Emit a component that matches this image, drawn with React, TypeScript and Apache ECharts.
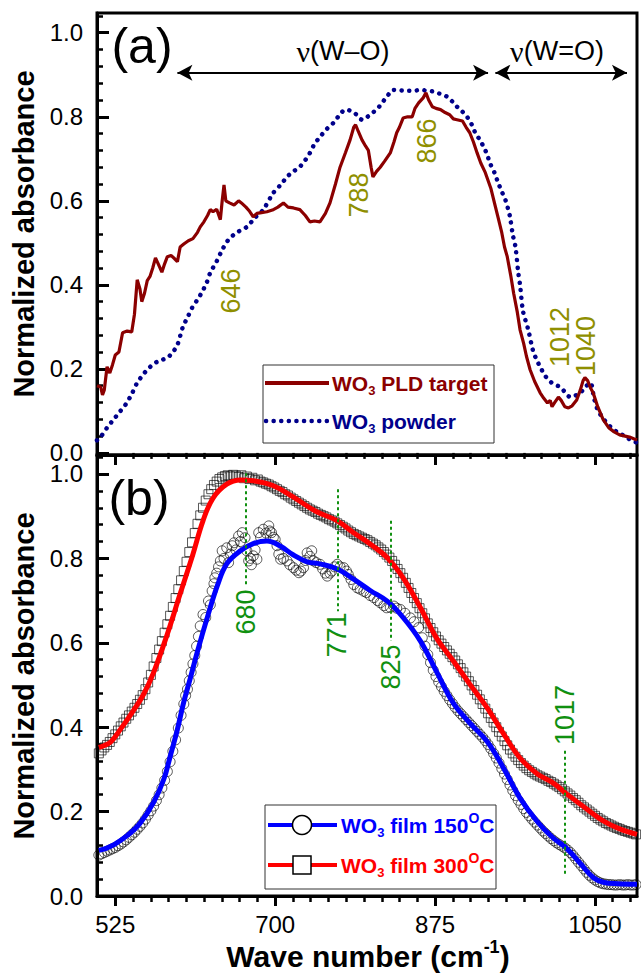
import React, { useEffect, useRef } from "react";
import * as echarts from "echarts";

const FONT = '"Liberation Sans", Arial, sans-serif';
const SERIF = '"Liberation Serif", "DejaVu Serif", serif';
const OLIVE = "#8f8f00";
const GREEN = "#109010";

// ---- axis ticks ----
const xMajorTicks = [525, 700, 875, 1050];
const xMinorTicks = [544.4, 563.9, 583.3, 602.8, 622.2, 641.7, 661.1, 680.6, 719.4, 738.9, 758.3, 777.8, 797.2, 816.7, 836.1, 855.6, 894.4, 913.9, 933.3, 952.8, 972.2, 991.7, 1011.1, 1030.6, 1069.4, 1088.9];
const yMajorTicks = [0, 0.2, 0.4, 0.6, 0.8, 1.0];
const yMinorTicks = [0.04, 0.08, 0.12, 0.16, 0.24, 0.28, 0.32, 0.36, 0.44, 0.48, 0.52, 0.56, 0.64, 0.68, 0.72, 0.76, 0.84, 0.88, 0.92, 0.96, 1.04];

// ---- panel (a) ----
const pldTarget = [[505,0.16],[509,0.157],[511,0.138],[513,0.15],[516,0.205],[519,0.19],[522,0.21],[525,0.233],[529,0.24],[533,0.286],[538,0.29],[543,0.288],[546,0.33],[549,0.412],[552,0.39],[554,0.36],[557,0.38],[560,0.41],[563,0.42],[566,0.44],[569,0.464],[572,0.45],[576,0.43],[579,0.45],[582,0.467],[586,0.47],[590,0.462],[593,0.455],[596,0.49],[600,0.497],[605,0.505],[610,0.51],[615,0.525],[618,0.538],[622,0.55],[626,0.565],[629,0.579],[632,0.574],[636,0.58],[640,0.555],[642,0.6],[644,0.638],[646,0.6],[650,0.595],[655,0.59],[660,0.6],[663,0.595],[668,0.585],[672,0.575],[676,0.562],[680,0.57],[685,0.572],[691,0.574],[697,0.578],[703,0.585],[709,0.595],[714,0.585],[720,0.583],[727,0.579],[733,0.565],[738,0.55],[743,0.552],[749,0.55],[755,0.57],[760,0.595],[766,0.64],[771,0.68],[777,0.715],[782,0.745],[786,0.775],[788,0.781],[791,0.765],[795,0.745],[799,0.73],[802,0.72],[805,0.68],[807,0.657],[811,0.67],[815,0.68],[820,0.695],[826,0.714],[830,0.74],[833,0.762],[836,0.775],[840,0.797],[845,0.8],[850,0.8],[853,0.82],[857,0.833],[862,0.845],[865,0.857],[868,0.84],[872,0.824],[876,0.82],[881,0.817],[886,0.81],[891,0.805],[895,0.795],[899,0.793],[905,0.79],[909,0.775],[913,0.762],[917,0.74],[921,0.714],[925,0.69],[930,0.667],[936,0.63],[941,0.586],[944,0.56],[948,0.524],[951,0.49],[954,0.467],[958,0.42],[961,0.38],[965,0.335],[968,0.293],[972,0.26],[975,0.23],[979,0.198],[984,0.17],[990,0.143],[994,0.13],[998,0.119],[1001,0.125],[1003,0.11],[1006,0.12],[1010,0.133],[1013,0.125],[1017,0.11],[1021,0.107],[1025,0.112],[1030,0.126],[1034,0.15],[1037,0.172],[1039,0.179],[1042,0.172],[1045,0.155],[1048,0.143],[1053,0.11],[1059,0.079],[1065,0.06],[1071,0.05],[1077,0.043],[1083,0.04],[1089,0.037],[1093,0.033],[1096,0.031]];

const powder = [[505,0.03],[509,0.038],[516,0.06],[523,0.079],[530,0.098],[536,0.114],[543,0.14],[549,0.167],[555,0.185],[560,0.198],[566,0.21],[571,0.217],[577,0.222],[582,0.226],[588,0.24],[593,0.257],[599,0.3],[604,0.322],[609,0.345],[615,0.365],[620,0.383],[625,0.405],[629,0.429],[636,0.456],[642,0.483],[648,0.505],[654,0.518],[660,0.527],[669,0.538],[678,0.56],[687,0.579],[698,0.619],[706,0.638],[713,0.657],[720,0.67],[727,0.681],[733,0.697],[738,0.714],[743,0.735],[749,0.752],[757,0.772],[764,0.786],[770,0.803],[777,0.817],[785,0.812],[790,0.803],[795,0.793],[801,0.8],[807,0.81],[813,0.822],[818,0.836],[823,0.85],[829,0.864],[836,0.863],[844,0.862],[852,0.862],[859,0.864],[866,0.862],[873,0.86],[880,0.855],[888,0.848],[894,0.836],[899,0.824],[905,0.812],[910,0.8],[915,0.782],[919,0.762],[924,0.745],[928,0.729],[932,0.71],[935,0.69],[940,0.667],[944,0.643],[948,0.622],[952,0.602],[955,0.58],[957,0.562],[960,0.52],[963,0.49],[966,0.43],[968,0.4],[971,0.34],[974,0.315],[977,0.293],[982,0.245],[986,0.222],[990,0.205],[995,0.185],[1001,0.17],[1006,0.162],[1012,0.157],[1017,0.145],[1023,0.133],[1029,0.137],[1034,0.143],[1040,0.158],[1045,0.167],[1049,0.13],[1053,0.102],[1058,0.085],[1063,0.071],[1068,0.06],[1074,0.05],[1080,0.043],[1085,0.036],[1090,0.03],[1096,0.024]];

// ---- panel (b) ----
const film150Raw = [[507,0.097],[510,0.1],[513,0.103],[516,0.106],[519,0.109],[522,0.112],[525,0.115],[528,0.119],[531,0.123],[534,0.128],[537,0.133],[540,0.139],[543,0.145],[546,0.151],[549,0.158],[552,0.165],[555,0.173],[558,0.182],[561,0.192],[564,0.202],[567,0.213],[570,0.226],[573,0.24],[576,0.256],[579,0.274],[582,0.295],[585,0.318],[588,0.343],[591,0.37],[594,0.398],[597,0.428],[600,0.455],[602,0.475],[604,0.49],[606,0.51],[608,0.53],[610,0.55],[612,0.57],[614,0.592],[616,0.615],[618,0.64],
[621,0.667],[624,0.66],[627,0.699],[629,0.69],[631,0.723],[633,0.74],[634,0.754],[636,0.765],[638,0.78],[640,0.794],[642,0.818],[644,0.8],[647,0.825],[649,0.79],[651,0.81],[653,0.83],[655,0.837],[657,0.82],[660,0.853],[662,0.84],[664,0.861],[667,0.849],[669,0.818],[671,0.794],[673,0.8],[674,0.785],[676,0.806],[678,0.82],[680,0.798],[682,0.861],[684,0.85],[687,0.869],[690,0.86],[693,0.877],[694,0.865],[696,0.861],[698,0.85],[700,0.845],[702,0.83],[704,0.81],[706,0.798],[709,0.8],[713,0.794],[716,0.785],[720,0.778],[723,0.772],[726,0.766],[728,0.77],[731,0.778],[733,0.795],[735,0.813],[738,0.805],[740,0.818],[742,0.794],[745,0.79],[749,0.786],[752,0.775],[755,0.765],[757,0.758],[760,0.765],[762,0.77],[765,0.78],[768,0.786],[771,0.78],[775,0.778],[778,0.77],[780,0.762],[783,0.75],[786,0.738],[790,0.73],[793,0.727],[797,0.722],[800,0.719],[804,0.712],[808,0.707],[812,0.7],[815,0.695],[819,0.688],[822,0.683],[826,0.684],[830,0.687],[833,0.682],[837,0.679],[842,0.67],[848,0.659],[852,0.65],[857,0.636],
[861,0.612],[864,0.592],[867,0.572],[870,0.553],[873,0.535],[876,0.52],[879,0.507],[882,0.496],[885,0.485],[888,0.475],[891,0.465],[894,0.456],[897,0.447],[900,0.439],[903,0.432],[906,0.425],[909,0.418],[912,0.411],[915,0.404],[918,0.397],[921,0.39],[924,0.383],[927,0.376],[930,0.368],[933,0.359],[936,0.349],[939,0.338],[942,0.327],[945,0.315],[948,0.302],[951,0.289],[954,0.276],[957,0.263],[960,0.25],[963,0.238],[966,0.227],[969,0.217],[972,0.207],[975,0.198],[978,0.19],[981,0.182],[984,0.175],[987,0.168],[990,0.161],[993,0.154],[996,0.148],[999,0.142],[1002,0.136],[1005,0.131],[1008,0.126],[1011,0.122],[1014,0.118],[1017,0.114],[1020,0.109],[1023,0.103],[1026,0.096],[1029,0.088],[1032,0.08],[1035,0.072],[1038,0.064],[1041,0.056],[1044,0.049],[1047,0.043],[1050,0.038],[1053,0.034],[1056,0.031],[1059,0.029],[1062,0.028],[1065,0.027],[1068,0.027],[1071,0.026],[1074,0.026],[1077,0.027],[1080,0.026],[1083,0.026],[1086,0.027],[1089,0.026],[1092,0.026],[1095,0.027]];

const film300Raw = [[507,0.338],[510,0.345],[513,0.352],[516,0.358],[519,0.365],[522,0.374],[525,0.383],[528,0.392],[531,0.402],[534,0.411],[537,0.42],[540,0.428],[543,0.437],[546,0.446],[549,0.455],[552,0.465],[555,0.476],[558,0.49],[561,0.506],[564,0.524],[567,0.544],[570,0.564],[573,0.584],[576,0.604],[579,0.624],[582,0.644],[585,0.664],[588,0.685],[591,0.706],[594,0.727],[597,0.748],[600,0.77],[603,0.792],[606,0.815],[609,0.838],[612,0.86],[615,0.882],[618,0.902],[621,0.92],[624,0.937],[627,0.952],[630,0.964],[633,0.974],[636,0.982],[639,0.988],[642,0.992],[645,0.995],[648,0.997],[651,0.994],[654,0.998],[657,0.996],[660,0.993],[663,0.997],[666,0.99],[669,0.994],[672,0.988],[675,0.991],[678,0.985],[681,0.987],[684,0.982],[687,0.98],[690,0.977],[693,0.975],[696,0.971],[699,0.968],[702,0.964],[705,0.96],[708,0.957],[711,0.952],[714,0.949],[717,0.944],[720,0.94],[723,0.936],[726,0.932],[729,0.928],[732,0.924],[735,0.92],[738,0.916],[741,0.913],[744,0.91],[747,0.906],[750,0.903],[753,0.9],[756,0.897],[759,0.893],[762,0.89],[765,0.887],[768,0.883],[771,0.879],[774,0.875],[777,0.871],[780,0.866],[783,0.862],[786,0.858],[789,0.855],[792,0.852],[795,0.849],[798,0.846],[801,0.843],[804,0.839],[807,0.835],[810,0.831],[813,0.826],[816,0.821],[819,0.815],[822,0.809],[825,0.802],[828,0.794],[831,0.785],[834,0.775],[837,0.765],[840,0.754],[843,0.742],[846,0.73],[849,0.718],[852,0.706],[855,0.694],[858,0.682],[861,0.67],[864,0.658],[867,0.646],[870,0.635],[873,0.625],[876,0.615],[879,0.606],[882,0.598],[885,0.59],[888,0.582],[891,0.574],[894,0.566],[897,0.558],[900,0.549],[903,0.54],[906,0.53],[909,0.52],[912,0.509],[915,0.499],[918,0.488],[921,0.477],[924,0.466],[927,0.455],[930,0.444],[933,0.433],[936,0.422],[939,0.411],[942,0.4],[945,0.389],[948,0.378],[951,0.367],[954,0.357],[957,0.347],[960,0.338],[963,0.33],[966,0.322],[969,0.315],[972,0.309],[975,0.303],[978,0.298],[981,0.294],[984,0.29],[987,0.286],[990,0.283],[993,0.28],[996,0.277],[999,0.273],[1002,0.27],[1005,0.266],[1008,0.262],[1011,0.258],[1014,0.253],[1017,0.248],[1020,0.243],[1023,0.238],[1026,0.232],[1029,0.227],[1032,0.221],[1035,0.215],[1038,0.21],[1041,0.205],[1044,0.2],[1047,0.195],[1050,0.19],[1053,0.185],[1056,0.181],[1059,0.177],[1062,0.173],[1065,0.17],[1068,0.167],[1071,0.164],[1074,0.161],[1077,0.159],[1080,0.156],[1083,0.154],[1086,0.152],[1089,0.15],[1092,0.148],[1095,0.146]];

const film150Fit = [[507,0.108],[515,0.113],[523,0.121],[538,0.143],[552,0.172],[567,0.222],[578,0.276],[585,0.33],[593,0.395],[600,0.46],[607,0.515],[615,0.58],[626,0.662],[637,0.737],[647,0.787],[662,0.818],[676,0.835],[691,0.841],[705,0.83],[720,0.808],[735,0.792],[749,0.787],[768,0.775],[785,0.752],[804,0.724],[823,0.698],[840,0.66],[859,0.604],[877,0.53],[895,0.457],[913,0.41],[932,0.366],[950,0.303],[968,0.232],[987,0.176],[1004,0.138],[1019,0.113],[1034,0.077],[1048,0.044],[1060,0.032],[1075,0.029],[1096,0.028]];

const film300Fit = [[507,0.352],[511,0.355],[520,0.365],[530,0.393],[545,0.44],[556,0.478],[567,0.53],[582,0.621],[596,0.716],[610,0.81],[621,0.889],[632,0.943],[647,0.976],[662,0.986],[676,0.984],[698,0.972],[720,0.945],[745,0.911],[768,0.889],[785,0.862],[804,0.834],[823,0.801],[840,0.754],[859,0.683],[877,0.61],[895,0.557],[913,0.502],[932,0.446],[950,0.384],[968,0.327],[987,0.289],[1004,0.268],[1019,0.242],[1041,0.206],[1059,0.178],[1077,0.159],[1096,0.146]];

// annotation lines (data coords)
const peakLinesB = [[668, 1.002, 0.735], [768, 0.964, 0.675], [826, 0.889, 0.604], [1017, 0.344, 0.052]];
const arrowsA = [[593, 933, 0.905], [941, 1085, 0.905]];

function xAxes(gridIndex: number, showLabels: boolean) {
  return [
    {
      type: "value", gridIndex, min: 505, max: 1096, position: "bottom",
      axisLine: { show: true, onZero: false, lineStyle: { color: "#000", width: 3 } },
      axisTick: { show: true, customValues: xMajorTicks, inside: false, length: 10, lineStyle: { color: "#000", width: 3 } },
      axisLabel: { show: showLabels, customValues: xMajorTicks, formatter: (v: number) => String(v), fontSize: 24, fontFamily: FONT, color: "#000", margin: 16 },
      splitLine: { show: false },
    },
    {
      type: "value", gridIndex, min: 505, max: 1096, position: "bottom",
      axisLine: { show: false },
      axisTick: { show: true, customValues: xMinorTicks, inside: false, length: 6, lineStyle: { color: "#000", width: 2.5 } },
      axisLabel: { show: false },
      splitLine: { show: false },
    },
  ];
}

function yAxes(gridIndex: number, min: number, max: number) {
  return [
    {
      type: "value", gridIndex, min, max, position: "left",
      axisLine: { show: true, onZero: false, lineStyle: { color: "#000", width: 3 } },
      axisTick: { show: true, customValues: yMajorTicks, inside: true, length: 12, lineStyle: { color: "#000", width: 3 } },
      axisLabel: { customValues: yMajorTicks, formatter: (v: number) => v.toFixed(1), fontSize: 24, fontFamily: FONT, color: "#000", margin: 14 },
      splitLine: { show: false },
    },
    {
      type: "value", gridIndex, min, max, position: "left",
      axisLine: { show: false },
      axisTick: { show: true, customValues: yMinorTicks, inside: true, length: 6, lineStyle: { color: "#000", width: 2.5 } },
      axisLabel: { show: false },
      splitLine: { show: false },
    },
  ];
}

const subRich = {
  s: { fontSize: 13, fontWeight: "bold", fontFamily: FONT, lineHeight: 12, verticalAlign: "bottom" },
  u: { fontSize: 14, fontWeight: "bold", fontFamily: FONT, lineHeight: 14, verticalAlign: "top" },
};

function legendText(x: number, y: number, text: string, color: string) {
  return {
    type: "text", x, y, z: 100,
    style: {
      text, fill: color, fontSize: 21, fontWeight: "bold", fontFamily: FONT, lineHeight: 28,
      align: "left", verticalAlign: "middle",
      rich: {
        s: { ...subRich.s, fill: color },
        u: { ...subRich.u, fill: color },
      },
    },
  };
}

function vLabel(x: number, y: number, text: string, color: string) {
  return {
    type: "text", x, y, rotation: Math.PI / 2, z: 100,
    style: { text, fill: color, fontSize: 27, fontFamily: FONT, align: "center", verticalAlign: "middle" },
  };
}

export default function App() {
  const ref = useRef<HTMLDivElement>(null);
  useEffect(() => {
    if (!ref.current) return;
    const chart = echarts.init(ref.current, null, { renderer: "svg" });
    const option: any = {
      animation: false,
      backgroundColor: "#fff",
      grid: [
        { left: 97, top: 13, width: 540, height: 442, show: true, borderColor: "#000", borderWidth: 3, containLabel: false },
        { left: 97, top: 455, width: 540, height: 441, show: true, borderColor: "#000", borderWidth: 3, containLabel: false },
      ],
      xAxis: [...xAxes(0, false), ...xAxes(1, true)],
      yAxis: [...yAxes(0, -0.005, 1.047), ...yAxes(1, 0, 1.045)],
      series: [
        {
          type: "line", name: "WO3 powder", xAxisIndex: 0, yAxisIndex: 0, data: powder,
          showSymbol: false, smooth: 0.3, z: 2,
          lineStyle: { color: "#00008b", width: 4.5, type: [0.1, 7.5], cap: "round" },
        },
        {
          type: "line", name: "WO3 PLD target", xAxisIndex: 0, yAxisIndex: 0, data: pldTarget,
          showSymbol: false, z: 3,
          lineStyle: { color: "#8b0000", width: 3.2 },
          markLine: {
            silent: true, symbol: ["arrow", "arrow"], symbolSize: [12, 15],
            label: { show: false },
            itemStyle: { color: "#000" },
            lineStyle: { color: "#000", width: 2, type: "solid" },
            data: arrowsA.map(([a, b, y]) => [{ coord: [a, y] }, { coord: [b, y] }]),
          },
        },
        {
          type: "scatter", name: "150 raw", xAxisIndex: 2, yAxisIndex: 2, data: film150Raw,
          symbol: "circle", symbolSize: 10, z: 2,
          itemStyle: { color: "rgba(0,0,0,0)", borderColor: "rgba(10,10,10,0.85)", borderWidth: 1 },
        },
        {
          type: "scatter", name: "300 raw", xAxisIndex: 2, yAxisIndex: 2, data: film300Raw,
          symbol: "rect", symbolSize: 9, z: 2,
          itemStyle: { color: "rgba(0,0,0,0)", borderColor: "rgba(10,10,10,0.85)", borderWidth: 1 },
        },
        {
          type: "line", name: "WO3 film 150C", xAxisIndex: 2, yAxisIndex: 2, data: film150Fit,
          showSymbol: false, smooth: 0.4, z: 3,
          lineStyle: { color: "#0000ff", width: 5 },
        },
        {
          type: "line", name: "WO3 film 300C", xAxisIndex: 2, yAxisIndex: 2, data: film300Fit,
          showSymbol: false, smooth: 0.4, z: 4,
          lineStyle: { color: "#ff0000", width: 5 },
          markLine: {
            silent: true, symbol: ["none", "none"], label: { show: false },
            lineStyle: { color: GREEN, width: 2, type: [3, 3] },
            data: peakLinesB.map(([x, y1, y2]) => [{ coord: [x, y1] }, { coord: [x, y2] }]),
          },
        },
      ],
      graphic: [
        // panel labels
        { type: "text", x: 142, y: 46, z: 100, style: { text: "(a)", fill: "#000", fontSize: 50, fontFamily: FONT, align: "center", verticalAlign: "middle" } },
        { type: "text", x: 139, y: 498, z: 100, style: { text: "(b)", fill: "#000", fontSize: 50, fontFamily: FONT, align: "center", verticalAlign: "middle" } },
        // vibration labels
        {
          type: "text", x: 343, y: 51, z: 100,
          style: { text: "{n|ν}(W–O)", fill: "#000", fontSize: 27, fontFamily: FONT, align: "center", verticalAlign: "middle",
            rich: { n: { fontSize: 30, fontFamily: SERIF, fill: "#000" } } },
        },
        {
          type: "text", x: 557, y: 51, z: 100,
          style: { text: "{n|ν}(W=O)", fill: "#000", fontSize: 27, fontFamily: FONT, align: "center", verticalAlign: "middle",
            rich: { n: { fontSize: 30, fontFamily: SERIF, fill: "#000" } } },
        },
        // peak labels
        vLabel(231, 291, "646", OLIVE),
        vLabel(359, 195, "788", OLIVE),
        vLabel(427, 141, "866", OLIVE),
        vLabel(560, 337, "1012", OLIVE),
        vLabel(586, 346, "1040", OLIVE),
        vLabel(246, 612, "680", GREEN),
        vLabel(337, 635, "771", GREEN),
        vLabel(391, 667, "825", GREEN),
        vLabel(565, 715, "1017", GREEN),
        // axis titles
        {
          type: "text", x: 24, y: 234, rotation: Math.PI / 2, z: 100,
          style: { text: "Normalized absorbance", fill: "#000", fontSize: 29, fontWeight: "bold", fontFamily: FONT, align: "center", verticalAlign: "middle" },
        },
        {
          type: "text", x: 24, y: 676, rotation: Math.PI / 2, z: 100,
          style: { text: "Normalized absorbance", fill: "#000", fontSize: 29, fontWeight: "bold", fontFamily: FONT, align: "center", verticalAlign: "middle" },
        },
        {
          type: "text", x: 368, y: 956, z: 100,
          style: { text: "Wave number (cm{u|-1})", fill: "#000", fontSize: 30, fontWeight: "bold", fontFamily: FONT, lineHeight: 36,
            align: "center", verticalAlign: "middle",
            rich: { u: { fontSize: 18, fontWeight: "bold", fontFamily: FONT, fill: "#000", lineHeight: 16, verticalAlign: "top" } } },
        },
        // legend (a)
        { type: "rect", z: 99, shape: { x: 263, y: 365, width: 231, height: 78 }, style: { fill: "#fff", stroke: "#333", lineWidth: 1 } },
        { type: "line", z: 100, shape: { x1: 265, y1: 383, x2: 329, y2: 383 }, style: { stroke: "#8b0000", lineWidth: 4 } },
        legendText(332, 383, "WO{s|3} PLD target", "#8b0000"),
        { type: "line", z: 100, shape: { x1: 266, y1: 421, x2: 329, y2: 421 }, style: { stroke: "#00008b", lineWidth: 4.5, lineDash: [0.1, 7.5], lineCap: "round" } },
        legendText(332, 421, "WO{s|3} powder", "#00008b"),
        // legend (b)
        { type: "rect", z: 99, shape: { x: 265, y: 805, width: 231, height: 84 }, style: { fill: "#fff", stroke: "#333", lineWidth: 1 } },
        { type: "line", z: 100, shape: { x1: 268, y1: 825, x2: 337, y2: 825 }, style: { stroke: "#0000ff", lineWidth: 4 } },
        { type: "circle", z: 101, shape: { cx: 302, cy: 825, r: 9.5 }, style: { fill: "#fff", stroke: "#000", lineWidth: 1.5 } },
        legendText(341, 825, "WO{s|3} film 150{u|O}C", "#0000ff"),
        { type: "line", z: 100, shape: { x1: 268, y1: 865, x2: 337, y2: 865 }, style: { stroke: "#ff0000", lineWidth: 4 } },
        { type: "rect", z: 101, shape: { x: 293, y: 856, width: 18, height: 18 }, style: { fill: "#fff", stroke: "#000", lineWidth: 1.5 } },
        legendText(341, 865, "WO{s|3} film 300{u|O}C", "#ff0000"),
      ],
    };
    chart.setOption(option);
    return () => chart.dispose();
  }, []);
  return <div ref={ref} style={{ position: "fixed", left: 0, top: 0, width: 641, height: 980, background: "#fff" }} />;
}
